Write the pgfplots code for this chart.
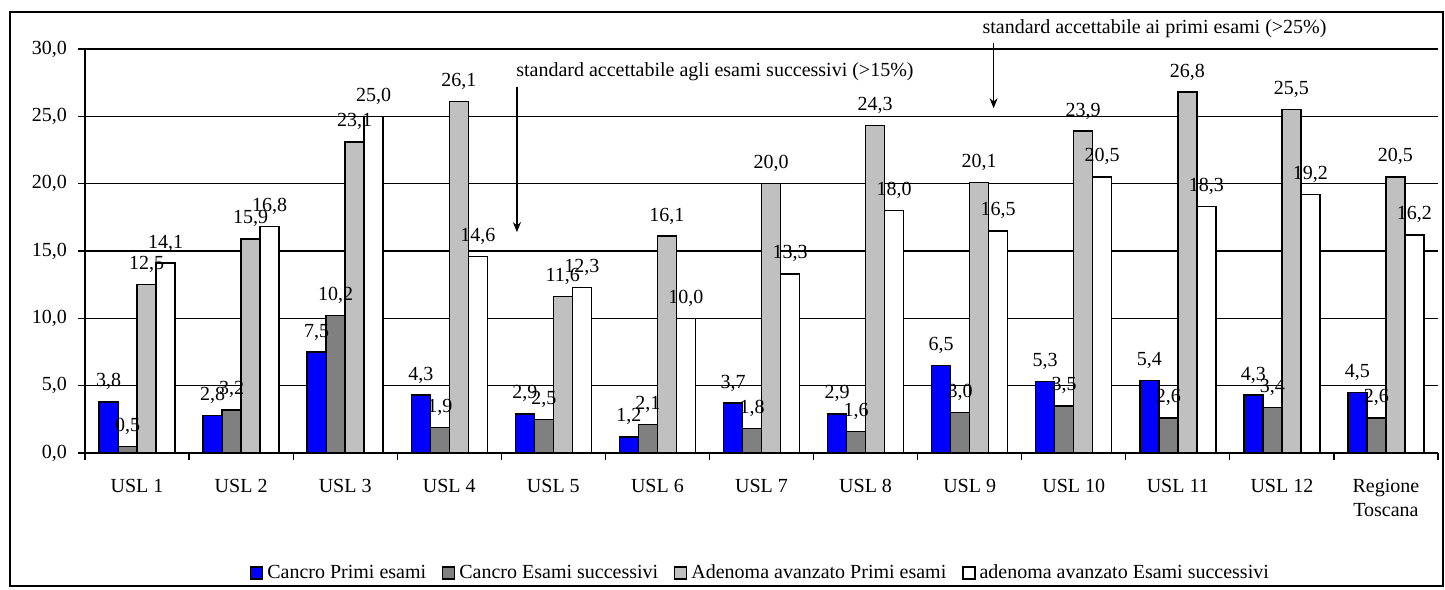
\documentclass[border=0pt]{standalone}
\usepackage{fontspec}
\setmainfont{Liberation Serif}
\usepackage{pgfplots}
\pgfplotsset{compat=1.18}
\usetikzlibrary{arrows.meta}

\definecolor{cblue}{RGB}{0,0,255}
\definecolor{cdark}{RGB}{128,128,128}
\definecolor{clight}{RGB}{192,192,192}

% x = USL index (0..11), 12 = Regione Toscana
\pgfplotstableread{
x  cp    cs    ap    as
0  3.8   0.5   12.5  14.1
1  2.8   3.2   15.9  16.8
2  7.5   10.2  23.1  25.0
3  4.3   1.9   26.1  14.6
4  2.9   2.5   11.6  12.3
5  1.2   2.1   16.1  10.0
6  3.7   1.8   20.0  13.3
7  2.9   1.6   24.3  18.0
8  6.5   3.0   20.1  16.5
9  5.3   3.5   23.9  20.5
10 5.4   2.6   26.8  18.3
11 4.3   3.4   25.5  19.2
12 4.5   2.6   20.5  16.2
}\datatable

\pgfplotsset{/pgf/number format/.cd, fixed, fixed zerofill, precision=1, use comma, assume math mode=true}

\begin{document}
\fontsize{10}{12}\selectfont
\begin{tikzpicture}
\begin{axis}[
    scale only axis,
    width=676.5pt, height=202pt,
    ybar=0pt, bar width=9.5pt,
    xmin=-0.5, xmax=12.5,
    ymin=0, ymax=30,
    ytick={0,5,...,30},
    yticklabel style={xshift=-2pt},
    xtick={0,...,12},
    xticklabels={USL 1,USL 2,USL 3,USL 4,USL 5,USL 6,USL 7,USL 8,USL 9,USL 10,USL 11,USL 12,{Regione\\Toscana}},
    xticklabel style={align=center, yshift=-6pt},
    major x tick style={draw=none},
    minor xtick={-0.5,0.5,...,12.5},
    minor tick length=3.5pt,
    major tick length=3.5pt,
    tick align=outside,
    tick style={black, line width=0.6pt},
    axis x line*=bottom, axis y line*=left,
    axis line style={black, line width=0.6pt, -},
    ymajorgrids=true,
    grid style={black, line width=0.6pt},
    clip=false,
    nodes near coords,
    every node near coord/.append style={font=\fontsize{10}{12}\selectfont, anchor=base, inner sep=0pt, yshift=7.5pt, black},
    legend columns=-1,
    legend style={at={(0.5,-0.297)}, anchor=center, draw=none, font=\fontsize{10}{12}\selectfont,
        /tikz/every even column/.append style={column sep=6pt}},
    legend image code/.code={\draw[#1, line width=0.6pt] (0pt,-3pt) rectangle (6pt,3pt);},
    every axis plot/.append style={draw=black, line width=0.7pt},
]
\addplot[fill=cblue] table[x=x, y=cp] {\datatable};
\addplot[fill=cdark] table[x=x, y=cs] {\datatable};
\addplot[fill=clight] table[x=x, y=ap] {\datatable};
\addplot[fill=white] table[x=x, y=as] {\datatable};
\legend{Cancro Primi esami, Cancro Esami successivi, Adenoma avanzato Primi esami, adenoma avanzato Esami successivi}

\node[anchor=west, inner sep=0pt] at (axis cs:3.64,28.3) {standard accettabile agli esami successivi (>15\%)};
\draw[-{Stealth[length=5pt,width=4pt]}, line width=0.6pt] (axis cs:3.65,27.2) -- (axis cs:3.65,16.4);
\node[anchor=west, inner sep=0pt] at (axis cs:8.12,31.5) {standard accettabile ai primi esami (>25\%)};
\draw[-{Stealth[length=5pt,width=4pt]}, line width=0.6pt] (axis cs:8.23,30.45) -- (axis cs:8.23,25.6);
\end{axis}
\path[use as bounding box] ([xshift=-42.5pt,yshift=-67.5pt]current axis.south west) rectangle ([xshift=3.5pt,yshift=24.5pt]current axis.north east);
\draw[line width=0.8pt] ([xshift=-37.5pt,yshift=-66.5pt]current axis.south west) rectangle ([xshift=2.5pt,yshift=18.5pt]current axis.north east);
\end{tikzpicture}
\end{document}
